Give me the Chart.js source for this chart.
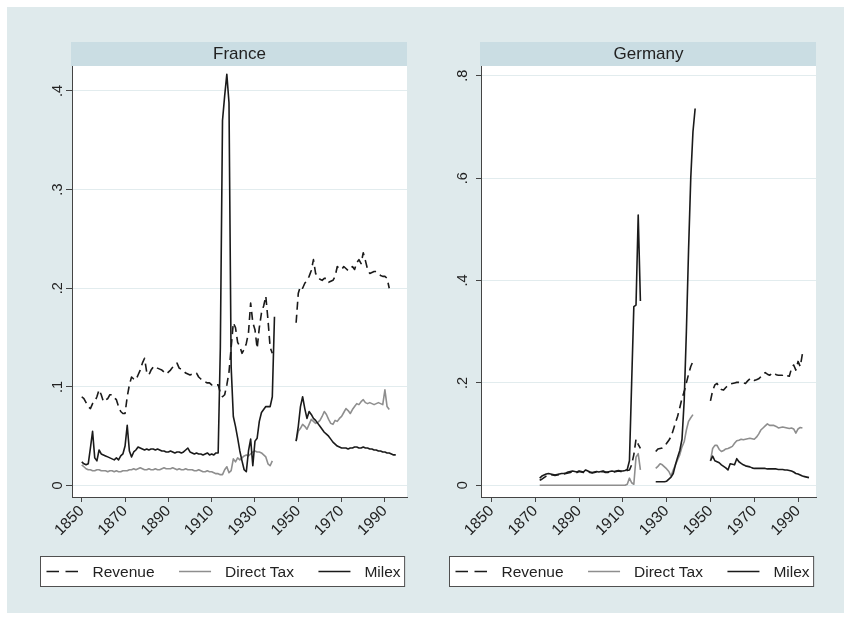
<!DOCTYPE html>
<html>
<head>
<meta charset="utf-8">
<script src="https://cdn.jsdelivr.net/npm/chart.js@4.4.1/dist/chart.umd.min.js"></script>
<style>
  html, body { margin: 0; padding: 0; background: #ffffff; }
  #wrap { position: relative; width: 851px; height: 620px; overflow: hidden; }
  #bg { position: absolute; left: 7px; top: 7px; width: 837px; height: 606px; background: #dfeaec; }
  canvas { position: absolute; top: 0; }
  #fr { left: 0; }
  #de { left: 425px; }
</style>
</head>
<body>
<div id="wrap">
  <div id="bg"></div>
  <canvas id="fr" width="425" height="620" style="width:425px;height:620px"></canvas>
  <canvas id="de" width="426" height="620" style="width:426px;height:620px"></canvas>
</div>
<script>
// ---- shared axis ticks ----
const xTickYears = [1850, 1870, 1890, 1910, 1930, 1950, 1970, 1990];
const xTickLabels = ['1850', '1870', '1890', '1910', '1930', '1950', '1970', '1990'];
const seriesNames = ['Revenue', 'Direct Tax', 'Milex'];

// ---- France ----
const frYTicks = [0, 0.1, 0.2, 0.3, 0.4];
const frYLabels = ['0', '.1', '.2', '.3', '.4'];

const frStartA = 1850;                 // 1850-1938 (Milex to 1939)
const frRevenueA = [
  0.090,0.088,0.084,0.080,0.078,0.083,0.085,0.090,0.097,0.092,
  0.085,0.087,0.088,0.092,0.092,0.089,0.087,0.080,0.075,0.073,
  0.073,0.090,0.102,0.110,0.108,0.107,0.112,0.117,0.124,0.129,
  0.115,0.112,0.117,0.120,0.121,0.119,0.118,0.117,0.115,0.113,
  0.115,0.117,0.120,0.123,0.124,0.119,0.118,0.116,0.114,0.113,
  0.112,0.113,0.114,0.114,0.110,0.108,0.106,0.105,0.104,0.104,
  0.102,0.101,0.102,0.102,0.094,0.090,0.092,0.102,0.115,0.140,
  0.165,0.160,0.145,0.141,0.134,0.138,0.144,0.155,0.185,0.165,
  0.158,0.139,0.160,0.175,0.182,0.192,0.168,0.140,0.134
];
const frDirectTaxA = [
  0.021,0.019,0.017,0.016,0.016,0.015,0.015,0.016,0.016,0.015,
  0.015,0.015,0.014,0.015,0.015,0.014,0.015,0.014,0.014,0.015,
  0.015,0.015,0.016,0.016,0.017,0.016,0.017,0.018,0.017,0.016,
  0.016,0.017,0.016,0.016,0.017,0.016,0.016,0.017,0.018,0.017,
  0.017,0.017,0.018,0.017,0.016,0.017,0.016,0.016,0.017,0.016,
  0.016,0.016,0.015,0.015,0.016,0.015,0.014,0.014,0.015,0.014,
  0.014,0.013,0.012,0.012,0.011,0.011,0.016,0.019,0.013,0.015,
  0.027,0.024,0.028,0.026,0.028,0.030,0.031,0.030,0.032,0.034,
  0.035,0.034,0.034,0.033,0.031,0.029,0.022,0.020,0.025
];
const frMilexA = [
  0.024,0.022,0.021,0.022,0.038,0.055,0.028,0.025,0.036,0.032,
  0.031,0.030,0.029,0.028,0.027,0.026,0.028,0.026,0.030,0.032,
  0.040,0.061,0.035,0.029,0.034,0.036,0.039,0.038,0.037,0.036,
  0.037,0.036,0.037,0.037,0.036,0.037,0.036,0.035,0.035,0.034,
  0.034,0.035,0.034,0.033,0.034,0.034,0.033,0.034,0.036,0.038,
  0.034,0.033,0.032,0.033,0.032,0.032,0.031,0.032,0.033,0.031,
  0.032,0.031,0.033,0.033,0.140,0.370,0.395,0.417,0.388,0.120,
  0.070,0.060,0.048,0.035,0.025,0.016,0.014,0.035,0.047,0.020,
  0.045,0.048,0.065,0.074,0.077,0.080,0.080,0.080,0.090,0.171
];

const frStartB = 1949;                 // 1949-1992 (Milex to 1995)
const frRevenueB = [
  0.165,0.195,0.202,0.200,0.205,0.208,0.212,0.218,0.229,0.215,
  0.212,0.209,0.208,0.210,0.210,0.206,0.207,0.208,0.212,0.222,
  0.220,0.219,0.222,0.220,0.218,0.219,0.222,0.219,0.226,0.229,
  0.225,0.236,0.228,0.219,0.215,0.216,0.217,0.217,0.215,0.213,
  0.212,0.212,0.210,0.200
];
const frDirectTaxB = [
  0.045,0.055,0.058,0.062,0.060,0.057,0.062,0.067,0.065,0.063,
  0.064,0.066,0.070,0.075,0.072,0.067,0.063,0.062,0.066,0.065,
  0.068,0.070,0.074,0.078,0.076,0.073,0.077,0.080,0.083,0.082,
  0.085,0.087,0.084,0.083,0.084,0.083,0.082,0.083,0.084,0.083,
  0.082,0.097,0.080,0.077
];
const frMilexB = [
  0.045,0.060,0.080,0.090,0.078,0.068,0.075,0.072,0.068,0.066,
  0.063,0.060,0.057,0.054,0.052,0.050,0.047,0.044,0.042,0.040,
  0.039,0.038,0.038,0.038,0.037,0.038,0.038,0.039,0.039,0.038,
  0.038,0.039,0.038,0.038,0.037,0.037,0.036,0.036,0.035,0.035,
  0.034,0.034,0.033,0.033,0.032,0.031,0.031
];

// ---- Germany ----
const deYTicks = [0, 0.2, 0.4, 0.6, 0.8];
const deYLabels = ['0', '.2', '.4', '.6', '.8'];

const deStartA = 1872;                 // 1872-1918
const deRevenueA = [
  0.010,0.012,0.015,0.018,0.020,0.021,0.020,0.019,0.020,0.021,
  0.022,0.022,0.023,0.024,0.025,0.027,0.026,0.025,0.027,0.026,
  0.025,0.027,0.026,0.025,0.024,0.025,0.026,0.025,0.026,0.027,
  0.025,0.025,0.026,0.027,0.026,0.027,0.028,0.027,0.027,0.028,
  0.029,0.030,0.040,0.060,0.090,0.080,0.072
];
const deDirectTaxA = [
  0.000,0.000,0.000,0.000,0.000,0.000,0.000,0.000,0.000,0.000,
  0.000,0.000,0.000,0.000,0.000,0.000,0.000,0.000,0.000,0.000,
  0.000,0.000,0.000,0.000,0.000,0.000,0.000,0.000,0.000,0.000,
  0.000,0.000,0.000,0.000,0.000,0.000,0.000,0.000,0.000,0.000,
  0.002,0.014,0.005,0.002,0.055,0.062,0.030
];
const deMilexA = [
  0.014,0.018,0.020,0.022,0.023,0.022,0.021,0.020,0.021,0.022,
  0.023,0.023,0.024,0.026,0.027,0.028,0.027,0.026,0.028,0.027,
  0.026,0.030,0.028,0.026,0.025,0.026,0.027,0.026,0.027,0.028,
  0.026,0.026,0.027,0.028,0.027,0.028,0.029,0.028,0.028,0.029,
  0.031,0.048,0.200,0.349,0.352,0.528,0.360
];

const deStartB = 1925;                 // 1925-1942 (Milex to 1943)
const deRevenueB = [
  0.066,0.071,0.072,0.073,0.076,0.082,0.088,0.095,0.108,0.122,
  0.135,0.152,0.170,0.183,0.200,0.217,0.232,0.242
];
const deDirectTaxB = [
  0.033,0.037,0.042,0.040,0.036,0.032,0.027,0.018,0.030,0.040,
  0.050,0.060,0.075,0.085,0.108,0.125,0.132,0.138
];
const deMilexB = [
  0.007,0.007,0.007,0.007,0.007,0.008,0.012,0.016,0.023,0.040,
  0.055,0.068,0.090,0.165,0.300,0.460,0.600,0.690,0.736
];

const deStartC = 1950;                 // 1950-1992 (Milex to 1995)
const deRevenueC = [
  0.165,0.185,0.196,0.199,0.192,0.187,0.186,0.191,0.195,0.198,
  0.199,0.200,0.201,0.201,0.200,0.200,0.199,0.204,0.208,0.209,
  0.205,0.206,0.208,0.212,0.217,0.220,0.217,0.215,0.218,0.220,
  0.216,0.215,0.215,0.215,0.217,0.214,0.213,0.228,0.235,0.225,
  0.242,0.232,0.257
];
const deDirectTaxC = [
  0.047,0.072,0.078,0.078,0.070,0.066,0.068,0.071,0.072,0.074,
  0.076,0.082,0.087,0.088,0.090,0.089,0.090,0.091,0.092,0.091,
  0.090,0.094,0.100,0.108,0.112,0.116,0.120,0.117,0.117,0.117,
  0.115,0.112,0.113,0.114,0.113,0.112,0.111,0.112,0.110,0.102,
  0.110,0.113,0.112
];
const deMilexC = [
  0.048,0.057,0.048,0.046,0.044,0.040,0.037,0.034,0.030,0.042,
  0.041,0.040,0.052,0.046,0.043,0.040,0.038,0.037,0.036,0.034,
  0.033,0.033,0.033,0.033,0.033,0.033,0.032,0.032,0.032,0.032,
  0.032,0.031,0.031,0.031,0.030,0.030,0.029,0.028,0.026,0.023,
  0.022,0.020,0.018,0.017,0.016,0.015
];

// ---- helpers ----
const FONT = '"Liberation Sans", Arial, Helvetica, sans-serif';
const INK = '#1a1a1a';
const GREY = '#8e8e8e';

// join yearly segments into {x,y} points, breaking the line between segments
function segments(parts) {
  const pts = [];
  parts.forEach(([start, vals], k) => {
    if (k > 0) pts.push({ x: start - 0.5, y: null });
    vals.forEach((v, i) => pts.push({ x: start + i, y: v }));
  });
  return pts;
}

function lineSet(label, points, color, dash, order) {
  return {
    label, data: points, borderColor: color, backgroundColor: color,
    borderWidth: 1.6, borderDash: dash, borderJoinStyle: 'round',
    pointRadius: 0, tension: 0, fill: false, spanGaps: false, order
  };
}

const legendDash = [[12.5, 6.5], [], []];

// white plot region, title strip and the boxed legend under each panel
const panelDecor = {
  id: 'panelDecor',
  beforeDraw(chart, args, o) {
    const { ctx, chartArea: a } = chart;
    ctx.save();
    ctx.fillStyle = '#ffffff';
    ctx.fillRect(a.left, a.top, a.right - a.left, a.bottom - a.top);
    ctx.fillStyle = '#cadde3';
    ctx.fillRect(a.left - 1, a.top - 24, a.right - a.left + 1, 24);
    ctx.fillStyle = '#222222';
    ctx.font = '17px ' + FONT;
    ctx.textAlign = 'center';
    ctx.textBaseline = 'middle';
    ctx.fillText(o.title, (a.left + a.right) / 2, a.top - 12);
    ctx.restore();
  },
  afterDraw(chart) {
    const { ctx, chartArea: a } = chart;
    const ds = chart.data.datasets;
    ctx.save();
    ctx.font = '15.5px ' + FONT;
    const widths = ds.map(d => ctx.measureText(d.label).width);
    const total = 6 + widths.reduce((s, w) => s + 46 + w, 0) + 24.5 * (ds.length - 1) + 4;
    const left = a.left - 31.5, top = 556.5, h = 30, cy = top + h / 2;
    ctx.fillStyle = '#ffffff';
    ctx.fillRect(left, top, total, h);
    ctx.strokeStyle = '#505050';
    ctx.lineWidth = 1;
    ctx.strokeRect(left, top, total, h);
    let x = left + 6;
    ds.forEach((d, i) => {
      ctx.beginPath();
      ctx.setLineDash(legendDash[i]);
      ctx.strokeStyle = d.borderColor;
      ctx.lineWidth = d.borderWidth;
      ctx.moveTo(x, cy);
      ctx.lineTo(x + 32, cy);
      ctx.stroke();
      ctx.setLineDash([]);
      ctx.fillStyle = '#222222';
      ctx.textAlign = 'left';
      ctx.textBaseline = 'middle';
      ctx.fillText(d.label, x + 46, cy + 1);
      x += 46 + widths[i] + 24.5;
    });
    ctx.restore();
  }
};

function panel(canvasId, cfg) {
  return new Chart(document.getElementById(canvasId), {
    type: 'line',
    data: {
      datasets: [
        lineSet(seriesNames[0], cfg.revenue, INK, [8, 5], 2),
        lineSet(seriesNames[1], cfg.directTax, GREY, [], 1),
        lineSet(seriesNames[2], cfg.milex, INK, [], 0)
      ]
    },
    options: {
      responsive: false,
      animation: false,
      events: [],
      layout: { padding: { left: 0, top: 66, right: cfg.padRight, bottom: 0 } },
      plugins: {
        legend: { display: false },
        tooltip: { enabled: false },
        title: { display: false },
        panelDecor: { title: cfg.title }
      },
      scales: {
        x: {
          type: 'linear', min: cfg.xMin, max: cfg.xMax,
          afterBuildTicks: s => { s.ticks = xTickYears.map(v => ({ value: v })); },
          afterFit: s => { s.height = 123; },
          ticks: {
            autoSkip: false, minRotation: 45, maxRotation: 45, padding: 0,
            color: '#222222', font: { family: FONT, size: 15.5 },
            callback: (v, i) => xTickLabels[i]
          },
          grid: { drawOnChartArea: false, tickLength: 5, tickColor: '#444444', tickWidth: 1 },
          border: { display: true, color: '#444444', width: 1 }
        },
        y: {
          type: 'linear', min: cfg.yMin, max: cfg.yMax,
          afterBuildTicks: s => { s.ticks = cfg.yTicks.map(v => ({ value: v })); },
          afterFit: s => { s.width = cfg.axisWidth; },
          ticks: {
            minRotation: 90, maxRotation: 90, crossAlign: 'center', padding: cfg.yPad,
            color: '#222222', font: { family: FONT, size: 14.5 },
            callback: (v, i) => cfg.yLabels[i]
          },
          grid: { color: '#e2ecee', lineWidth: 1, tickLength: cfg.yTickLen, tickColor: '#444444', tickWidth: 1 },
          border: { display: true, color: '#444444', width: 1 }
        }
      }
    },
    plugins: [panelDecor]
  });
}

panel('fr', {
  title: 'France',
  revenue: segments([[frStartA, frRevenueA], [frStartB, frRevenueB]]),
  directTax: segments([[frStartA, frDirectTaxA], [frStartB, frDirectTaxB]]),
  milex: segments([[frStartA, frMilexA], [frStartB, frMilexB]]),
  xMin: 1845.5, xMax: 2000.2,
  yMin: -0.01166, yMax: 0.4253,
  yTicks: frYTicks, yLabels: frYLabels,
  axisWidth: 72, padRight: 18, yPad: 1.5, yTickLen: 6
});

panel('de', {
  title: 'Germany',
  revenue: segments([[deStartA, deRevenueA], [deStartB, deRevenueB], [deStartC, deRevenueC]]),
  directTax: segments([[deStartA, deDirectTaxA], [deStartB, deDirectTaxB], [deStartC, deDirectTaxC]]),
  milex: segments([[deStartA, deMilexA], [deStartB, deMilexB], [deStartC, deMilexC]]),
  xMin: 1845.2, xMax: 1998.2,
  yMin: -0.02285, yMax: 0.819,
  yTicks: deYTicks, yLabels: deYLabels,
  axisWidth: 56, padRight: 35, yPad: 7, yTickLen: 5
});
</script>
</body>
</html>
